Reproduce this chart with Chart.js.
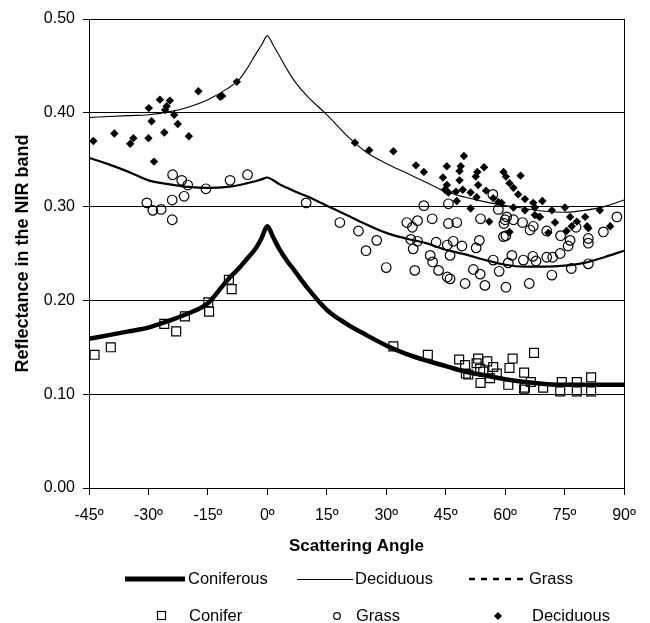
<!DOCTYPE html>
<html>
<head>
<meta charset="utf-8">
<script src="https://cdn.jsdelivr.net/npm/chart.js@4.4.0/dist/chart.umd.min.js"></script>
<style>
  html, body { margin: 0; padding: 0; background: #fff; }
  #wrap { width: 650px; height: 623px; }
</style>
</head>
<body>
<div id="wrap"><canvas id="chart" width="650" height="623"></canvas></div>
<script>
// Model curves (scattering angle in degrees, NIR reflectance)
var curveAngles = [-45, -40, -35, -30, -25, -20, -15, -10, -7, -5, -3, -1.5, 0, 1.5, 3, 5, 7, 10, 15, 20, 25, 30, 35, 40, 45, 50, 55, 60, 65, 70, 75, 80, 85, 90];
var coniferousCurve = [0.159, 0.163, 0.167, 0.171, 0.178, 0.186, 0.197, 0.222, 0.235, 0.245, 0.255, 0.266, 0.279, 0.267, 0.255, 0.242, 0.231, 0.214, 0.190, 0.175, 0.163, 0.152, 0.143, 0.136, 0.130, 0.124, 0.120, 0.116, 0.113, 0.111, 0.110, 0.110, 0.110, 0.110];
var deciduousCurve = [0.395, 0.396, 0.397, 0.398, 0.401, 0.406, 0.414, 0.426, 0.436, 0.448, 0.462, 0.472, 0.482, 0.472, 0.461, 0.446, 0.433, 0.418, 0.398, 0.376, 0.358, 0.346, 0.336, 0.326, 0.316, 0.310, 0.305, 0.301, 0.298, 0.295, 0.294, 0.296, 0.300, 0.307];
var grassCurve = [0.352, 0.345, 0.337, 0.328, 0.324, 0.321, 0.320, 0.321, 0.323, 0.325, 0.327, 0.329, 0.331, 0.328, 0.324, 0.320, 0.316, 0.311, 0.301, 0.291, 0.281, 0.272, 0.266, 0.261, 0.254, 0.249, 0.243, 0.238, 0.236, 0.236, 0.237, 0.240, 0.246, 0.253];

// Measured samples
var coniferAngle = [-43.6, -39.5, -26.0, -23.0, -20.8, -14.9, -14.7, -9.7, -9.0, 31.8, 40.5, 48.4, 49.9, 53.2, 52.8, 55.5, 57.0, 53.7, 50.1, 50.7, 54.5, 53.8, 61.9, 67.3, 61.1, 64.8, 60.8, 66.5, 64.8, 69.6, 74.3, 73.9, 78.1, 78.1, 81.7, 81.7, 56.2, 57.9, 65.0];
var coniferValue = [0.142, 0.150, 0.175, 0.167, 0.183, 0.198, 0.188, 0.222, 0.212, 0.151, 0.142, 0.137, 0.131, 0.138, 0.133, 0.135, 0.129, 0.127, 0.122, 0.121, 0.124, 0.112, 0.138, 0.144, 0.128, 0.123, 0.110, 0.113, 0.105, 0.107, 0.113, 0.103, 0.113, 0.103, 0.118, 0.103, 0.117, 0.122, 0.107];

var grassAngle = [-30.4, -28.9, -26.8, -24.0, -24.0, -23.9, -21.6, -21.0, -20.1, -15.5, -9.4, -5.0, 9.8,
  18.3, 23.0, 24.9, 27.6, 30.0, 39.5, 45.7, 35.2, 36.6, 37.9, 41.6, 45.7, 47.8, 53.8, 58.3, 59.7, 36.2, 37.9, 36.8, 42.6, 45.4, 46.9, 49.1, 53.5, 52.7, 41.1, 41.7, 46.1, 37.2, 43.2, 45.4, 46.1, 49.9, 52.0, 53.7, 54.9, 57.0, 58.5, 60.2, 59.6, 60.4, 60.2, 62.1, 64.4, 66.3, 67.1, 70.5, 74.0, 76.4, 75.9, 77.9, 81.0, 81.0, 84.8, 88.2, 61.7, 60.8, 64.6, 67.0, 67.8, 70.5, 72.0, 73.9, 76.7, 81.0, 71.8, 66.1, 56.9, 60.0];
var grassValue = [0.304, 0.296, 0.297, 0.307, 0.286, 0.334, 0.328, 0.311, 0.323, 0.319, 0.328, 0.334, 0.304,
  0.283, 0.274, 0.253, 0.264, 0.235, 0.301, 0.303, 0.283, 0.278, 0.285, 0.287, 0.282, 0.283, 0.287, 0.297, 0.282, 0.265, 0.263, 0.255, 0.262, 0.259, 0.263, 0.258, 0.264, 0.256, 0.248, 0.241, 0.248, 0.232, 0.232, 0.225, 0.223, 0.218, 0.233, 0.228, 0.216, 0.243, 0.231, 0.214, 0.268, 0.289, 0.269, 0.286, 0.283, 0.275, 0.279, 0.274, 0.269, 0.264, 0.258, 0.278, 0.266, 0.261, 0.273, 0.289, 0.248, 0.240, 0.243, 0.247, 0.242, 0.246, 0.246, 0.250, 0.234, 0.239, 0.227, 0.218, 0.313, 0.286];

var deciduousAngle = [-43.9, -38.6, -34.6, -33.8, -30.0, -29.9, -27.1, -29.2, -26.0, -25.4, -24.6, -25.8, -23.5, -22.6, -19.8, -28.6, -17.4, -11.9, -11.4, -7.7,
  22.1, 25.7, 31.8, 37.5, 39.5, 45.3, 44.3, 49.6, 48.8, 48.5, 48.5, 45.3, 44.8, 45.7, 47.6, 49.3, 51.3, 47.8, 53.0, 52.6, 54.7, 53.2, 52.8, 55.2, 51.3, 56.0, 59.6, 60.2, 57.0, 58.3, 63.9, 61.1, 62.1, 63.3, 65.0, 67.1, 69.4, 59.1, 62.1, 65.0, 67.5, 71.8, 75.1, 68.6, 72.6, 76.4, 78.1, 80.2, 80.7, 83.9, 86.5, 76.8, 61.1, 70.9, 75.5, 81.0, 67.5, 68.8];
var deciduousValue = [0.370, 0.378, 0.367, 0.373, 0.373, 0.405, 0.414, 0.391, 0.379, 0.407, 0.413, 0.403, 0.398, 0.388, 0.375, 0.348, 0.423, 0.417, 0.418, 0.433,
  0.368, 0.360, 0.359, 0.344, 0.337, 0.343, 0.331, 0.354, 0.343, 0.338, 0.328, 0.323, 0.318, 0.315, 0.316, 0.318, 0.315, 0.306, 0.337, 0.332, 0.342, 0.323, 0.310, 0.317, 0.298, 0.284, 0.337, 0.332, 0.309, 0.305, 0.333, 0.325, 0.320, 0.313, 0.308, 0.304, 0.306, 0.304, 0.299, 0.296, 0.299, 0.296, 0.299, 0.289, 0.283, 0.289, 0.284, 0.289, 0.279, 0.296, 0.279, 0.279, 0.273, 0.272, 0.274, 0.277, 0.291, 0.289];

var xTicks = [-45, -30, -15, 0, 15, 30, 45, 60, 75, 90];
var yTicks = [0.0, 0.1, 0.2, 0.3, 0.4, 0.5];

function pairs(xs, ys) {
  return xs.map(function (x, i) { return { x: x, y: ys[i] }; });
}

var FONT = "'Liberation Sans', Arial, sans-serif";

// Titles, right border of the plot box and the two-row legend
var extras = {
  id: 'extras',
  afterDraw: function (chart) {
    var ctx = chart.ctx;
    var a = chart.chartArea;
    ctx.save();

    // right side of the box
    ctx.strokeStyle = '#000';
    ctx.lineWidth = 1;
    var rx = Math.round(a.right + 0.5) - 0.5;
    ctx.beginPath();
    ctx.moveTo(rx, a.top);
    ctx.lineTo(rx, a.bottom);
    ctx.stroke();

    ctx.fillStyle = '#000';
    ctx.textBaseline = 'middle';

    // axis titles
    ctx.font = "bold 17px " + FONT;
    ctx.textAlign = 'center';
    ctx.fillText('Scattering Angle', (a.left + a.right) / 2, 546);

    ctx.save();
    ctx.translate(23, (a.top + a.bottom) / 2);
    ctx.rotate(-Math.PI / 2);
    ctx.font = "bold 18px " + FONT;
    ctx.fillText('Reflectance in the NIR band', 0, 0);
    ctx.restore();

    // legend, first row: model lines
    var r1 = 579, r2 = 616;
    ctx.font = "16.5px " + FONT;
    ctx.textAlign = 'left';

    ctx.lineWidth = 5;
    ctx.beginPath(); ctx.moveTo(125, r1); ctx.lineTo(185, r1); ctx.stroke();
    ctx.fillText('Coniferous', 188, r1);

    ctx.lineWidth = 1;
    ctx.beginPath(); ctx.moveTo(297, r1 + 0.5); ctx.lineTo(353, r1 + 0.5); ctx.stroke();
    ctx.fillText('Deciduous', 355, r1);

    ctx.lineWidth = 2.5;
    ctx.setLineDash([6, 6]);
    ctx.beginPath(); ctx.moveTo(469, r1); ctx.lineTo(528, r1); ctx.stroke();
    ctx.setLineDash([]);
    ctx.fillText('Grass', 529, r1);

    // second row: measured samples
    ctx.lineWidth = 1.2;
    ctx.strokeRect(157.5, r2 - 4.5, 8, 8);
    ctx.fillText('Conifer', 189, r2);

    ctx.beginPath(); ctx.arc(337, r2, 3.3, 0, Math.PI * 2); ctx.stroke();
    ctx.fillText('Grass', 356, r2);

    ctx.beginPath();
    ctx.moveTo(498, r2 - 4); ctx.lineTo(502, r2); ctx.lineTo(498, r2 + 4); ctx.lineTo(494, r2);
    ctx.closePath(); ctx.fill();
    ctx.fillText('Deciduous', 532, r2);

    ctx.restore();
  }
};

var ctx = document.getElementById('chart');
var chart = new Chart(ctx, {
  type: 'scatter',
  data: {
    datasets: [
      {
        label: 'Coniferous',
        data: pairs(curveAngles, coniferousCurve),
        showLine: true,
        borderColor: '#000',
        borderWidth: 4.5,
        pointRadius: 0,
        cubicInterpolationMode: 'monotone',
        order: 0
      },
      {
        label: 'Deciduous',
        data: pairs(curveAngles, deciduousCurve),
        showLine: true,
        borderColor: '#000',
        borderWidth: 1.1,
        pointRadius: 0,
        cubicInterpolationMode: 'monotone',
        order: 0
      },
      {
        label: 'Grass',
        data: pairs(curveAngles, grassCurve),
        showLine: true,
        borderColor: '#000',
        borderWidth: 2.2,
        pointRadius: 0,
        cubicInterpolationMode: 'monotone',
        order: 0
      },
      {
        label: 'Conifer',
        data: pairs(coniferAngle, coniferValue),
        pointStyle: 'rect',
        pointRadius: 6.3,
        borderColor: '#000',
        borderWidth: 1.2,
        backgroundColor: 'rgba(0,0,0,0)',
        order: 1
      },
      {
        label: 'Grass samples',
        data: pairs(grassAngle, grassValue),
        pointStyle: 'circle',
        pointRadius: 4.8,
        borderColor: '#000',
        borderWidth: 1.2,
        backgroundColor: 'rgba(0,0,0,0)',
        order: 1
      },
      {
        label: 'Deciduous samples',
        data: pairs(deciduousAngle, deciduousValue),
        pointStyle: 'rectRot',
        pointRadius: 4.2,
        borderWidth: 0,
        backgroundColor: '#000',
        order: 1
      }
    ]
  },
  options: {
    responsive: false,
    animation: false,
    layout: { padding: { top: 19, right: 26, left: 0, bottom: 0 } },
    plugins: {
      legend: { display: false },
      tooltip: { enabled: false }
    },
    scales: {
      x: {
        type: 'linear',
        min: -45,
        max: 90,
        afterBuildTicks: function (scale) {
          scale.ticks = xTicks.map(function (v) { return { value: v }; });
        },
        afterFit: function (scale) { scale.height = 135; },
        ticks: {
          color: '#000',
          padding: 11,
          maxRotation: 0,
          font: { family: FONT, size: 16 },
          callback: function (v) { return v + 'º'; }
        },
        grid: { drawOnChartArea: false, color: '#000', tickLength: 7 },
        border: { color: '#000', width: 1 }
      },
      y: {
        min: 0,
        max: 0.5,
        afterBuildTicks: function (scale) {
          scale.ticks = yTicks.map(function (v) { return { value: v }; });
        },
        afterFit: function (scale) { scale.width = 89; },
        ticks: {
          color: '#000',
          padding: 8,
          font: { family: FONT, size: 16 },
          callback: function (v) { return v.toFixed(2); }
        },
        grid: { color: '#000', tickLength: 6 },
        border: { color: '#000', width: 1 }
      }
    }
  },
  plugins: [extras]
});
</script>
</body>
</html>
